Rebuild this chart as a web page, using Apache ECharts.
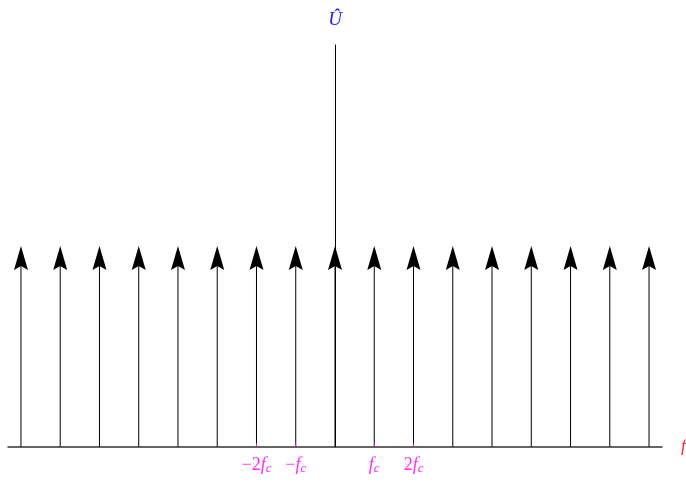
<!DOCTYPE html>
<html lang="en">
<head>
    <meta charset="UTF-8">
    <title>Impulse train</title>
    <style>
        html, body { margin: 0; padding: 0; background: #fff; }
        #echart { width: 686px; height: 482px; }
    </style>
</head>
<body>
    <div id="echart"></div>
    <script src="https://cdn.jsdelivr.net/npm/echarts@6/dist/echarts.min.js"></script>
    <script>
        // impulse positions (multiples of fc) and their heights
        const positions = [-8, -7, -6, -5, -4, -3, -2, -1, 0, 1, 2, 3, 4, 5, 6, 7, 8]
        const heights = [1, 1, 1, 1, 1, 1, 1, 1, 1, 1, 1, 1, 1, 1, 1, 1, 1]
        // labelled ticks on the frequency axis
        const tickValues = [-2, -1, 1, 2]
        const tickLabels = ['{n|−2}{f|f}{s|c}', '{n|−}{f|f}{s|c}', '{f|f}{s|c}', '{n|2}{f|f}{s|c}']

        const echart = echarts.init(document.getElementById('echart'))
        const serif = '"Liberation Serif", "DejaVu Serif", serif'
        const magenta = '#ff2bff'

        echart.setOption({
            animation: false,
            grid: { left: 8, right: 24, top: 45, bottom: 35, outerBoundsMode: 'none', containLabel: false },
            xAxis: {
                type: 'value',
                min: -8.33,
                max: 8.33,
                z: 5,
                name: 'f',
                nameLocation: 'end',
                nameGap: 19,
                nameTextStyle: { color: '#ff2020', fontFamily: serif, fontStyle: 'italic', fontSize: 17 },
                splitLine: { show: false },
                axisLine: { lineStyle: { color: '#333', width: 1.5 } },
                axisTick: {
                    customValues: tickValues,
                    inside: true,
                    length: 4,
                    lineStyle: { color: '#c020c0', width: 1 }
                },
                axisLabel: {
                    customValues: tickValues,
                    margin: 8,
                    formatter: v => tickLabels[tickValues.indexOf(v)],
                    rich: {
                        n: { color: magenta, fontFamily: serif, fontSize: 18 },
                        f: { color: magenta, fontFamily: serif, fontSize: 18, fontStyle: 'italic' },
                        s: { color: magenta, fontFamily: serif, fontSize: 13, fontStyle: 'italic', padding: [7, 0, 0, 0] }
                    }
                }
            },
            yAxis: {
                type: 'value',
                min: 0,
                max: 2,
                name: 'Û',
                nameLocation: 'end',
                nameGap: 16,
                nameTextStyle: { color: '#2020ff', fontFamily: serif, fontStyle: 'italic', fontSize: 19 },
                splitLine: { show: false },
                axisLine: { show: true, onZero: true, lineStyle: { color: '#000', width: 1 } },
                axisTick: { show: false },
                axisLabel: { show: false }
            },
            series: [{
                type: 'custom',
                data: positions.map((p, i) => [p, heights[i]]),
                renderItem: function (params, api) {
                    const base = api.coord([api.value(0), 0])
                    const tip = api.coord([api.value(0), api.value(1)])
                    const x = base[0]
                    const w = 7, h = 24, notch = 4
                    return {
                        type: 'group',
                        children: [
                            {
                                type: 'line',
                                shape: { x1: x, y1: base[1], x2: x, y2: tip[1] + h - notch },
                                style: { stroke: '#000', lineWidth: 1 }
                            },
                            {
                                type: 'polygon',
                                shape: { points: [[x, tip[1]], [x + w, tip[1] + h], [x, tip[1] + h - notch], [x - w, tip[1] + h]] },
                                style: { fill: '#000' }
                            }
                        ]
                    }
                }
            }]
        })
    </script>
</body>
</html>
